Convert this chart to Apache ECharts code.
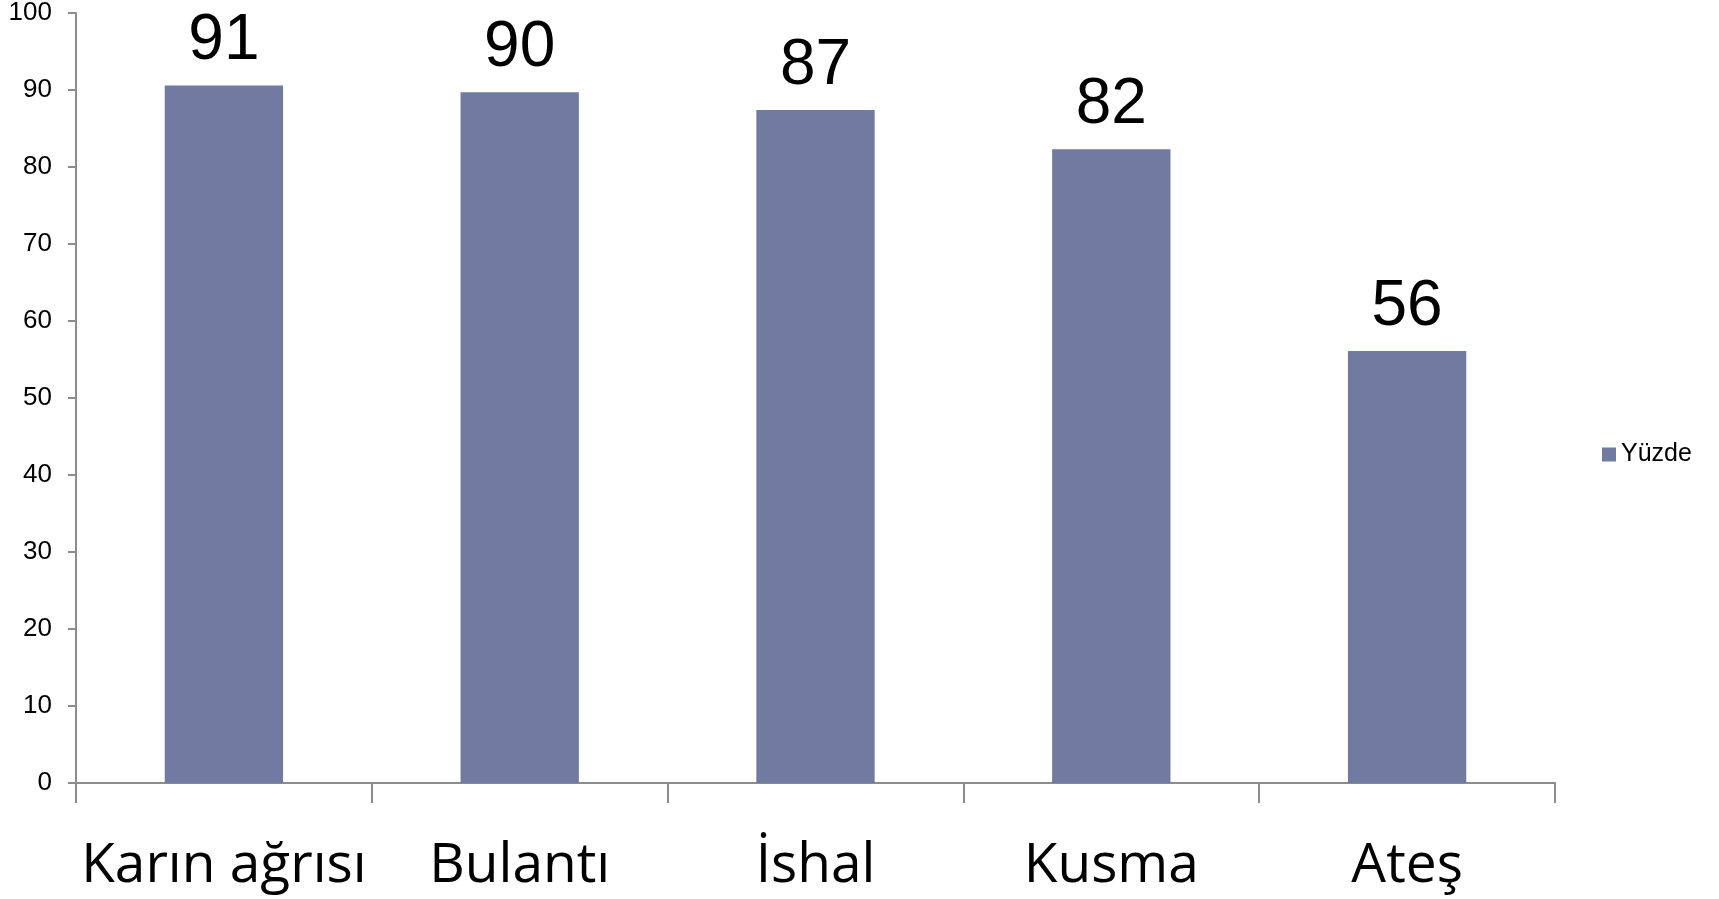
<!DOCTYPE html>
<html>
<head>
<meta charset="utf-8">
<script src="https://cdn.jsdelivr.net/npm/echarts@6/dist/echarts.min.js"></script>
<style>html,body{margin:0;padding:0;background:#fff}#c{width:1719px;height:899px}</style>
</head>
<body>
<div id="c"></div>
<script>
const categories = ['Karın ağrısı', 'Bulantı', 'İshal', 'Kusma', 'Ateş'];
const values = [90.6, 89.7, 87.4, 82.3, 56.1];
const seriesName = 'Yüzde';
const yTicks = [0, 10, 20, 30, 40, 50, 60, 70, 80, 90, 100];

const chart = echarts.init(document.getElementById('c'));
chart.setOption({
  animation: false,
  grid: { left: 76, right: 164, top: 13, bottom: 116, containLabel: false },
  legend: {
    data: [seriesName], orient: 'vertical', left: 1597, top: 437,
    itemWidth: 14, itemHeight: 14, itemGap: 6,
    textStyle: { fontFamily: 'Liberation Sans', fontSize: 25, color: '#000' },
    icon: 'rect'
  },
  xAxis: {
    type: 'category', data: categories,
    axisLine: { lineStyle: { color: '#8c8c8c', width: 2 } },
    axisTick: { show: true, alignWithLabel: false, length: 20, lineStyle: { color: '#8c8c8c', width: 2 } },
    axisLabel: { fontFamily: 'Open Sans', fontSize: 55, color: '#000', margin: 56, interval: 0 }
  },
  yAxis: {
    type: 'value', min: yTicks[0], max: yTicks[yTicks.length - 1], interval: 10,
    splitLine: { show: false },
    axisLine: { show: true, lineStyle: { color: '#8c8c8c', width: 2 } },
    axisTick: { show: true, length: 8, lineStyle: { color: '#8c8c8c', width: 2 } },
    axisLabel: { fontFamily: 'Liberation Sans', fontSize: 26, color: '#000', margin: 24 }
  },
  series: [{
    name: seriesName, type: 'bar', data: values, barWidth: '40%',
    itemStyle: { color: '#717ba2' },
    label: {
      show: true, position: 'top', distance: 12,
      fontFamily: 'Liberation Sans', fontSize: 64, color: '#000',
      formatter: p => Math.round(p.value)
    }
  }]
});
</script>
</body>
</html>
